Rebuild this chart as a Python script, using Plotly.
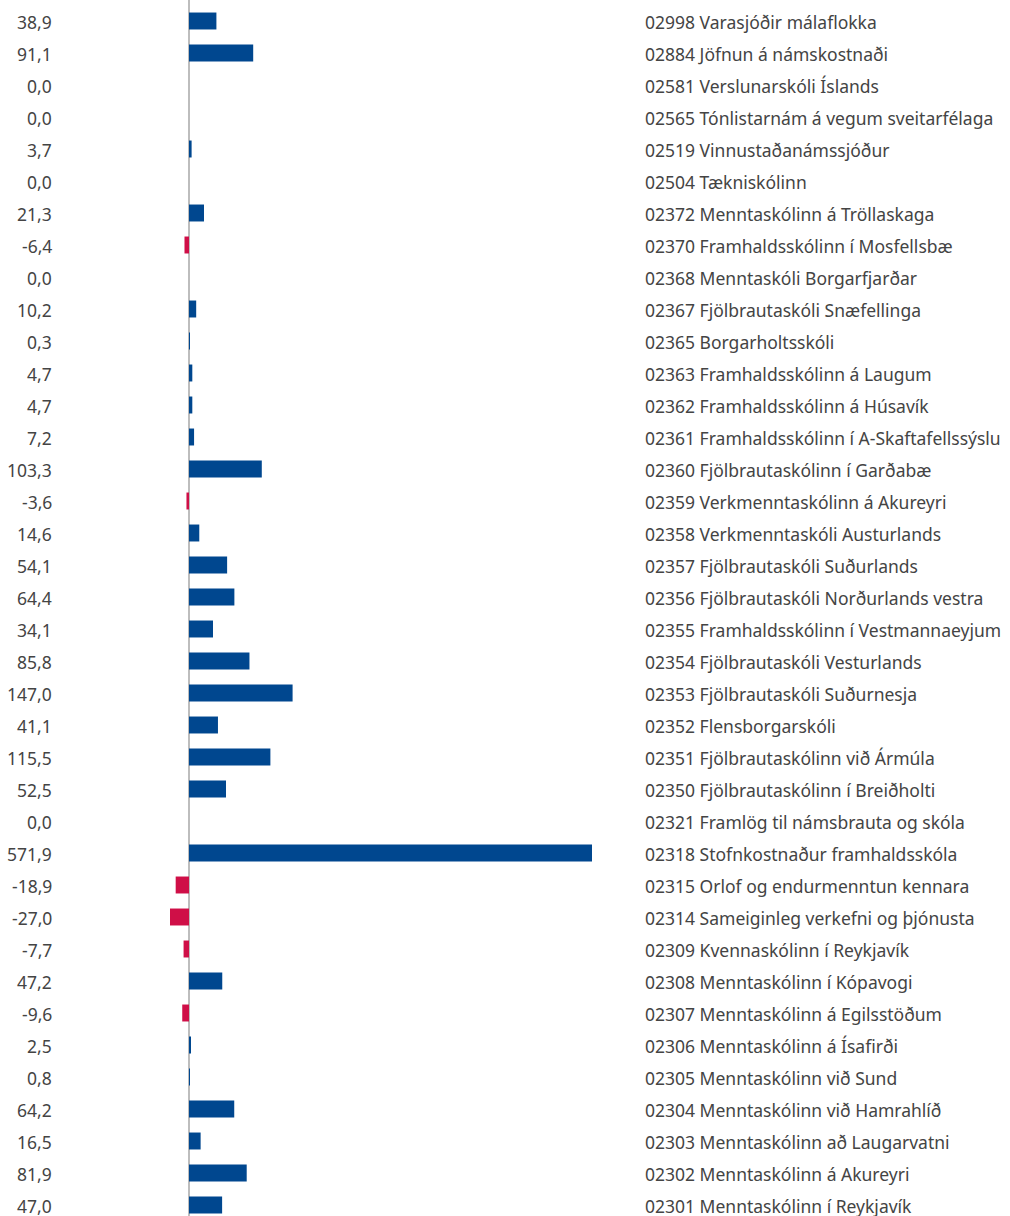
import plotly.graph_objects as go

codes = ["02998", "02884", "02581", "02565", "02519", "02504", "02372", "02370", "02368", "02367",
         "02365", "02363", "02362", "02361", "02360", "02359", "02358", "02357", "02356", "02355",
         "02354", "02353", "02352", "02351", "02350", "02321", "02318", "02315", "02314", "02309",
         "02308", "02307", "02306", "02305", "02304", "02303", "02302", "02301"]
names = ["Varasjóðir málaflokka", "Jöfnun á námskostnaði", "Verslunarskóli Íslands",
         "Tónlistarnám á vegum sveitarfélaga", "Vinnustaðanámssjóður", "Tækniskólinn",
         "Menntaskólinn á Tröllaskaga", "Framhaldsskólinn í Mosfellsbæ", "Menntaskóli Borgarfjarðar",
         "Fjölbrautaskóli Snæfellinga", "Borgarholtsskóli", "Framhaldsskólinn á Laugum",
         "Framhaldsskólinn á Húsavík", "Framhaldsskólinn í A-Skaftafellssýslu",
         "Fjölbrautaskólinn í Garðabæ", "Verkmenntaskólinn á Akureyri", "Verkmenntaskóli Austurlands",
         "Fjölbrautaskóli Suðurlands", "Fjölbrautaskóli Norðurlands vestra",
         "Framhaldsskólinn í Vestmannaeyjum", "Fjölbrautaskóli Vesturlands", "Fjölbrautaskóli Suðurnesja",
         "Flensborgarskóli", "Fjölbrautaskólinn við Ármúla", "Fjölbrautaskólinn í Breiðholti",
         "Framlög til námsbrauta og skóla", "Stofnkostnaður framhaldsskóla",
         "Orlof og endurmenntun kennara", "Sameiginleg verkefni og þjónusta",
         "Kvennaskólinn í Reykjavík", "Menntaskólinn í Kópavogi", "Menntaskólinn á Egilsstöðum",
         "Menntaskólinn á Ísafirði", "Menntaskólinn við Sund", "Menntaskólinn við Hamrahlíð",
         "Menntaskólinn að Laugarvatni", "Menntaskólinn á Akureyri", "Menntaskólinn í Reykjavík"]
values = [38.9, 91.1, 0.0, 0.0, 3.7, 0.0, 21.3, -6.4, 0.0, 10.2,
          0.3, 4.7, 4.7, 7.2, 103.3, -3.6, 14.6, 54.1, 64.4, 34.1,
          85.8, 147.0, 41.1, 115.5, 52.5, 0.0, 571.9, -18.9, -27.0, -7.7,
          47.2, -9.6, 2.5, 0.8, 64.2, 16.5, 81.9, 47.0]

labels = [f"{c} {n}" for c, n in zip(codes, names)]
BLUE = "#00478F"
RED = "#CF0F47"
TEXT = "#444444"
FONT = "Noto Sans"
FSIZE = 17.5

W, H = 1010, 1216
zero_px = 189
scale = (592 - 189) / 571.9  # px per unit
x0 = -zero_px / scale
x1 = (W - zero_px) / scale

row_h = 32.0
first_row_px = 21
y_top = -first_row_px / row_h
y_bottom = y_top + H / row_h

fig = go.Figure()
fig.add_trace(go.Bar(
    x=values, y=labels, orientation="h",
    marker=dict(color=[BLUE if v >= 0 else RED for v in values], line=dict(width=0)),
    hoverinfo="x+y", showlegend=False,
))

annotations = []
for lab, v in zip(labels, values):
    annotations.append(dict(x=54 / W, xref="paper", y=lab, yref="y", xanchor="right",
                            yanchor="middle", showarrow=False, yshift=-1,
                            text=f"{v:.1f}".replace(".", ","),
                            font=dict(family=FONT, size=FSIZE, color=TEXT)))
    annotations.append(dict(x=643 / W, xref="paper", y=lab, yref="y", xanchor="left",
                            yanchor="middle", showarrow=False, text=lab, yshift=-1,
                            font=dict(family=FONT, size=FSIZE, color=TEXT)))

fig.update_layout(
    width=W, height=H,
    margin=dict(l=0, r=0, t=0, b=0),
    paper_bgcolor="white", plot_bgcolor="white",
    bargap=0.47,
    annotations=annotations,
    xaxis=dict(range=[x0, x1], showgrid=False, showticklabels=False, zeroline=True,
               zerolinecolor="#BDBDBD", zerolinewidth=1.5, fixedrange=True),
    yaxis=dict(type="category", categoryorder="array", categoryarray=labels,
               range=[y_bottom, y_top], showticklabels=False, showgrid=False,
               zeroline=False, fixedrange=True),
)

fig.write_html("out.html", config={"displayModeBar": False},
               post_script="document.body.style.margin='0';document.body.style.overflow='hidden';")
